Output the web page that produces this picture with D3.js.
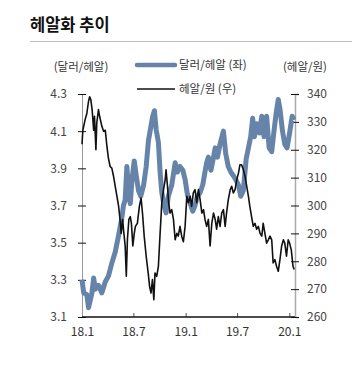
<!DOCTYPE html>
<html><head><meta charset="utf-8">
<script src="https://cdn.jsdelivr.net/npm/d3@7"></script>
<style>
body{margin:0;background:#fff;}
text{font-family:"Noto Sans CJK KR","Noto Sans",sans-serif;}
</style></head>
<body><svg id="c" width="359" height="365"></svg>
<script>
const title = "헤알화 추이";
const leftUnit = "(달러/헤알)";
const rightUnit = "(헤알/원)";
const seriesNames = ["달러/헤알 (좌)", "헤알/원 (우)"];
const leftTicks = [3.1, 3.3, 3.5, 3.7, 3.9, 4.1, 4.3];
const rightTicks = [260, 270, 280, 290, 300, 310, 320, 330, 340];
const xTickDates = ["2018-01-01","2018-07-01","2019-01-01","2019-07-01","2020-01-01"];
const xTickLabels = ["18.1","18.7","19.1","19.7","20.1"];

const usdBrlDates = ["2018-01-01","2018-01-07","2018-01-18","2018-01-24","2018-02-05","2018-02-11","2018-02-17","2018-02-28","2018-03-12","2018-03-24","2018-04-04","2018-04-16","2018-04-28","2018-05-10","2018-05-21","2018-05-27","2018-06-02","2018-06-08","2018-06-14","2018-06-20","2018-06-26","2018-07-04","2018-07-11","2018-07-19","2018-07-27","2018-08-06","2018-08-15","2018-08-23","2018-08-31","2018-09-07","2018-09-13","2018-09-19","2018-09-27","2018-10-03","2018-10-09","2018-10-17","2018-10-24","2018-11-01","2018-11-13","2018-11-25","2018-12-03","2018-12-12","2018-12-22","2018-12-30","2019-01-07","2019-01-17","2019-01-26","2019-02-03","2019-02-11","2019-02-21","2019-03-02","2019-03-10","2019-03-16","2019-03-22","2019-03-31","2019-04-09","2019-04-15","2019-04-23","2019-05-02","2019-05-14","2019-05-22","2019-05-31","2019-06-09","2019-06-18","2019-06-26","2019-07-06","2019-07-14","2019-07-23","2019-08-02","2019-08-10","2019-08-18","2019-08-25","2019-08-31","2019-09-08","2019-09-18","2019-09-26","2019-10-04","2019-10-13","2019-10-22","2019-10-31","2019-11-08","2019-11-15","2019-11-23","2019-11-29","2019-12-08","2019-12-16","2019-12-24","2020-01-02","2020-01-11","2020-01-18"];
const usdBrl = [3.30,3.23,3.22,3.15,3.23,3.31,3.25,3.27,3.23,3.29,3.32,3.39,3.45,3.54,3.63,3.70,3.73,3.91,3.78,3.71,3.84,3.94,3.86,3.78,3.75,3.81,3.91,4.05,4.12,4.18,4.21,4.11,4.04,3.88,3.77,3.70,3.66,3.75,3.81,3.93,3.88,3.91,3.89,3.84,3.76,3.71,3.67,3.70,3.75,3.77,3.81,3.88,3.93,3.96,3.89,3.96,4.01,3.96,4.03,4.10,3.98,3.91,3.88,3.86,3.84,3.81,3.75,3.78,3.95,4.01,4.07,4.17,4.07,4.14,4.09,4.18,4.07,4.18,4.01,3.99,4.10,4.19,4.27,4.22,4.10,4.03,4.01,4.09,4.18,4.16];

const brlKrwDates = ["2018-01-01","2018-01-04","2018-01-12","2018-01-18","2018-01-24","2018-01-28","2018-02-01","2018-02-06","2018-02-11","2018-02-14","2018-02-19","2018-02-22","2018-02-28","2018-03-04","2018-03-12","2018-03-18","2018-03-24","2018-03-30","2018-04-04","2018-04-10","2018-04-16","2018-04-22","2018-04-28","2018-05-04","2018-05-10","2018-05-15","2018-05-19","2018-05-24","2018-05-27","2018-06-02","2018-06-06","2018-06-10","2018-06-15","2018-06-20","2018-06-24","2018-06-29","2018-07-04","2018-07-08","2018-07-15","2018-07-22","2018-07-28","2018-08-02","2018-08-08","2018-08-15","2018-08-22","2018-08-27","2018-09-01","2018-09-06","2018-09-11","2018-09-15","2018-09-21","2018-09-27","2018-10-03","2018-10-09","2018-10-15","2018-10-21","2018-10-24","2018-10-29","2018-11-02","2018-11-07","2018-11-13","2018-11-19","2018-11-25","2018-12-01","2018-12-06","2018-12-12","2018-12-18","2018-12-24","2018-12-30","2019-01-05","2019-01-11","2019-01-17","2019-01-22","2019-01-28","2019-02-03","2019-02-09","2019-02-15","2019-02-21","2019-02-27","2019-03-05","2019-03-10","2019-03-16","2019-03-22","2019-03-28","2019-04-03","2019-04-09","2019-04-15","2019-04-20","2019-04-26","2019-05-02","2019-05-08","2019-05-14","2019-05-20","2019-05-25","2019-05-31","2019-06-07","2019-06-12","2019-06-18","2019-06-24","2019-06-30","2019-07-06","2019-07-11","2019-07-17","2019-07-23","2019-07-29","2019-08-04","2019-08-10","2019-08-15","2019-08-21","2019-08-27","2019-09-02","2019-09-08","2019-09-14","2019-09-20","2019-09-26","2019-10-01","2019-10-07","2019-10-13","2019-10-19","2019-10-25","2019-10-31","2019-11-05","2019-11-11","2019-11-17","2019-11-23","2019-11-29","2019-12-05","2019-12-11","2019-12-16","2019-12-22","2019-12-28","2020-01-02","2020-01-08","2020-01-14","2020-01-18"];
const brlKrw = [322,327,330.8,333,337.4,339,338,334,327,332,320,329.6,334.4,332,328.4,326.6,327,321,317,314,313.4,310.5,306.9,303.3,299.7,294.9,290,295,291.5,285.5,274.6,288,295,296,293.6,285.5,290,292.5,293.6,299.7,302.7,297.3,289,281.8,275.8,271,268.6,273.4,266.2,275.8,274.6,278.2,290,301,305.7,309.3,312.8,306.9,301,297.3,298.5,295,287.7,290,289,292.5,289,287,292.5,303.3,301,303.3,299.7,304.5,305.7,301,305.7,302,297.3,298.5,295,292.5,295,285.5,293.6,297.3,295,291.5,296,292.5,297.3,298.5,292.5,297.3,302,305.7,306.9,304.5,305.7,309.3,311.7,314.6,314.6,312.8,310.5,306.9,303.3,299.7,296,292.5,293.6,291.5,292.5,290,289,293.6,290,286.5,287.7,289,287.7,279.4,280.6,278.2,276.4,280.6,285.5,287.7,286.5,281.8,287.7,286.5,284,278.2,277];

const parse = d3.timeParse("%Y-%m-%d");
const svg = d3.select("#c");
const L = 82, R = 295, T = 94, B = 317;

const x = d3.scaleTime().domain([parse("2018-01-01"), parse("2020-01-21")]).range([L, R]);
const yL = d3.scaleLinear().domain([3.1, 4.3]).range([B, T]);
const yR = d3.scaleLinear().domain([260, 340]).range([B, T]);

// title
svg.append("text").attr("x", 30).attr("y", 31).attr("font-size", 16.5).attr("font-weight", "bold").attr("fill", "#111").text(title);
svg.append("line").attr("x1", 30).attr("x2", 352).attr("y1", 41.5).attr("y2", 41.5).attr("stroke", "#bdbdbd").attr("stroke-width", 1);

// units
svg.append("text").attr("x", 81).attr("y", 71).attr("text-anchor", "middle").attr("font-size", 11.5).attr("fill", "#333").text(leftUnit);
svg.append("text").attr("x", 305).attr("y", 71).attr("text-anchor", "middle").attr("font-size", 11.5).attr("fill", "#333").text(rightUnit);

// legend
const lg = svg.append("g");
lg.append("line").attr("x1", 137).attr("x2", 175).attr("y1", 65).attr("y2", 65).attr("stroke", "#6684aa").attr("stroke-width", 4.5).attr("stroke-linecap", "round");
lg.append("text").attr("x", 179).attr("y", 69).attr("font-size", 11.5).attr("fill", "#333").text(seriesNames[0]);
lg.append("line").attr("x1", 137).attr("x2", 175).attr("y1", 89).attr("y2", 89).attr("stroke", "#111").attr("stroke-width", 1.5);
lg.append("text").attr("x", 179).attr("y", 93).attr("font-size", 11.5).attr("fill", "#333").text(seriesNames[1]);

// axes
const axL = svg.append("g").attr("transform", `translate(${L},0)`)
  .call(d3.axisLeft(yL).tickValues(leftTicks).tickFormat(d3.format(".1f")).tickSize(4).tickPadding(11));
axL.select(".domain").attr("stroke", "#999");
axL.selectAll(".tick line").attr("x2", 4).attr("x1", -4).attr("stroke", "#111");
axL.selectAll("text").attr("font-size", 12).attr("fill", "#444").attr("font-family", "'Noto Sans CJK KR', sans-serif");

const axR = svg.append("g").attr("transform", `translate(${R},0)`)
  .call(d3.axisRight(yR).tickValues(rightTicks).tickSize(4).tickPadding(8));
axR.select(".domain").attr("stroke", "#aaa").attr("stroke-width", 1.5);
axR.selectAll(".tick line").attr("x1", -4).attr("x2", 4).attr("stroke", "#111");
axR.selectAll("text").attr("font-size", 12).attr("fill", "#444").attr("font-family", "'Noto Sans CJK KR', sans-serif");

// lines
const blueLine = d3.line().x((d, i) => x(parse(usdBrlDates[i]))).y(d => yL(d)).curve(d3.curveLinear);
const blackLine = d3.line().x((d, i) => x(parse(brlKrwDates[i]))).y(d => yR(d)).curve(d3.curveLinear);

svg.append("path").datum(usdBrl).attr("d", blueLine).attr("fill", "none").attr("stroke", "#6684aa").attr("stroke-width", 5).attr("stroke-linejoin", "round");
svg.append("path").datum(brlKrw).attr("d", blackLine).attr("fill", "none").attr("stroke", "#111").attr("stroke-width", 1.6).attr("stroke-linejoin", "round");

// bottom axis
const axB = svg.append("g").attr("transform", `translate(0,${B})`)
  .call(d3.axisBottom(x).tickValues(xTickDates.map(parse)).tickFormat((d, i) => xTickLabels[i]).tickSize(0).tickPadding(10));
axB.select(".domain").remove();
axB.append("line").attr("x1", L).attr("x2", R).attr("stroke", "#111").attr("stroke-width", 1.5);
axB.selectAll(".tick line").attr("y1", 0).attr("y2", -4).attr("stroke", "#555");
axB.selectAll(".tick").filter((d, i) => i === 0).select("line").remove();
axB.selectAll("text").attr("font-size", 12).attr("fill", "#333").attr("font-family", "'Noto Sans CJK KR', sans-serif");
</script></body></html>
